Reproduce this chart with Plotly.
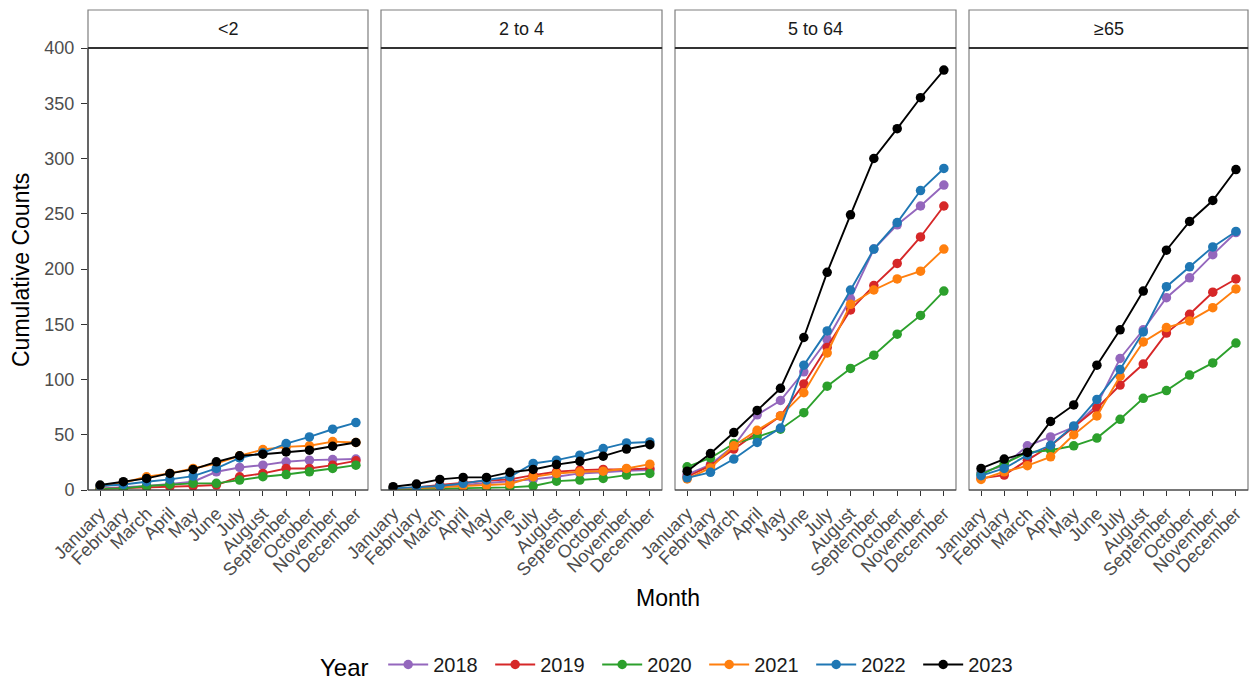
import plotly.graph_objects as go

months = ["January", "February", "March", "April", "May", "June", "July",
          "August", "September", "October", "November", "December"]
age_groups = ["<2", "2 to 4", "5 to 64", "≥65"]
years = ["2018", "2019", "2020", "2021", "2022", "2023"]
colors = ["#9467bd", "#d62728", "#2ca02c", "#ff7f0e", "#1f77b4", "#000000"]

# <2
lt2_2018 = [1.5, 2.4, 3.6, 5.4, 7.5, 16.5, 20.4, 22.5, 25.5, 27, 27.6, 28]
lt2_2019 = [1, 1.5, 2.4, 3, 3.6, 4.5, 12, 15, 19.5, 19.5, 22.5, 26.4]
lt2_2020 = [1, 1.5, 3.6, 5, 6, 6, 9, 12, 14, 16.5, 19.5, 22.5]
lt2_2021 = [3, 6.6, 12, 15, 19.5, 24, 31, 36.6, 39, 40, 43.8, 43]
lt2_2022 = [3.6, 5, 7.5, 9.6, 12.6, 19.5, 29, 33.6, 42, 48, 55, 61]
lt2_2023 = [4.5, 7.5, 10.5, 15, 18.6, 25.5, 31, 32.4, 34.5, 36, 39.6, 43]

# 2 to 4
a24_2018 = [1, 1.8, 3, 4.5, 6, 7.5, 9.6, 12, 15, 16, 17.4, 18]
a24_2019 = [1.2, 2.4, 4.5, 6.6, 8.4, 9.6, 13.5, 16.5, 18, 18.6, 18.6, 19.5]
a24_2020 = [0.6, 1, 1.2, 1.5, 1.8, 2.4, 3.6, 8, 9, 10.5, 13.5, 15]
a24_2021 = [1, 1.5, 2.4, 3.6, 4.5, 5.4, 12, 15, 16.5, 17, 19.5, 23.4]
a24_2022 = [1.5, 2.4, 3.6, 6, 9, 12, 24, 27, 31.5, 37.5, 42.6, 43.5]
a24_2023 = [3, 5.4, 9.6, 11.4, 11.4, 16, 18.6, 23, 26, 30.6, 37, 41]

# 5 to 64
a564_2018 = [14, 23, 40, 68, 81, 107, 136, 173, 218, 240, 257, 276]
a564_2019 = [12, 22, 37, 52, 67, 96, 129, 163, 185, 205, 229, 257]
a564_2020 = [21, 29, 42, 48, 55, 70, 94, 110, 122, 141, 158, 180]
a564_2021 = [10, 20, 40, 54, 67, 88, 124, 168, 181, 191, 198, 218]
a564_2022 = [11, 16, 28, 43, 56, 113, 144, 181, 218, 242, 271, 291]
a564_2023 = [17, 33, 52, 72, 92, 138, 197, 249, 300, 327, 355, 380]

# >=65
a65_2018 = [16, 22, 40, 48, 57, 77, 119, 145, 174, 192, 213, 233]
a65_2019 = [10.5, 13.5, 27, 40, 57, 74, 95, 114, 142, 159, 179, 191]
a65_2020 = [14, 24, 34, 36, 40, 47, 64, 83, 90, 104, 115, 133]
a65_2021 = [9.6, 16.5, 22, 30, 50, 67, 103, 134, 147, 153, 165, 182]
a65_2022 = [13, 19.5, 31.5, 40.5, 58, 82, 109, 143, 184, 202, 220, 234]
a65_2023 = [19.5, 28, 34, 62, 77, 113, 145, 180, 217, 243, 262, 290]

panels = [
    [lt2_2018, lt2_2019, lt2_2020, lt2_2021, lt2_2022, lt2_2023],
    [a24_2018, a24_2019, a24_2020, a24_2021, a24_2022, a24_2023],
    [a564_2018, a564_2019, a564_2020, a564_2021, a564_2022, a564_2023],
    [a65_2018, a65_2019, a65_2020, a65_2021, a65_2022, a65_2023],
]

W, H = 1249, 679
px_left = [88, 381, 675, 969]
px_right = [368, 662, 956, 1248]
plot_top, plot_bottom = 48, 490
strip_top = 10
L, R = 88, 1248
PW = R - L
PH = plot_bottom - plot_top

def fx(p):
    return (p - L) / PW

def fy(p):
    return (plot_bottom - p) / PH

fig = go.Figure()
FONT = "Liberation Sans, Arial, sans-serif"

for i, series in enumerate(panels):
    xa = "x" if i == 0 else f"x{i+1}"
    for j, vals in enumerate(series):
        fig.add_trace(go.Scatter(
            x=months, y=vals, mode="lines+markers",
            name=years[j], legendgroup=years[j], showlegend=(i == 0),
            line=dict(color=colors[j], width=1.9),
            marker=dict(color=colors[j], size=9.5),
            xaxis=xa, yaxis="y",
        ))

layout = dict(
    width=W, height=H,
    margin=dict(l=L, r=W - R, t=plot_top, b=H - plot_bottom, autoexpand=False),
    paper_bgcolor="white", plot_bgcolor="white",
    font=dict(family=FONT, color="#000000"),
    showlegend=True,
    legend=dict(
        orientation="h", x=fx(672), xanchor="center", y=fy(666), yanchor="middle",
        title=dict(text="Year ", font=dict(size=24, color="#000000"), side="left"),
        font=dict(size=20, color="#1a1a1a"), itemwidth=40, tracegroupgap=0,
        entrywidth=52, entrywidthmode="pixels",
        bgcolor="rgba(0,0,0,0)",
    ),
)

tick_font = dict(size=18, color="#4d4d4d", family=FONT)
for i in range(4):
    key = "xaxis" if i == 0 else f"xaxis{i+1}"
    layout[key] = dict(
        domain=[fx(px_left[i]), fx(px_right[i])],
        anchor="y", type="category", categoryorder="array", categoryarray=months,
        range=[-0.52, 11.52], tickangle=-45, tickfont=tick_font,
        ticks="outside", ticklen=5, tickcolor="#333333", tickwidth=1,
        showgrid=False, zeroline=False, showline=False, automargin=False,
    )

layout["yaxis"] = dict(
    domain=[0, 1], anchor="x",
    range=[0, 400], tickvals=[0, 50, 100, 150, 200, 250, 300, 350, 400],
    ticks="outside", ticklen=6, tickcolor="#333333", tickwidth=1,
    tickfont=tick_font, showgrid=False, zeroline=False, showline=False,
    automargin=False, ticklabelstandoff=3,
)
fig.update_layout(**layout)

shapes = []
annotations = []
for i in range(4):
    x0, x1 = fx(px_left[i]), fx(px_right[i])
    shapes.append(dict(type="rect", xref="paper", yref="paper", x0=x0, x1=x1,
                       y0=0, y1=1,
                       line=dict(color="#7f7f7f", width=1.2), fillcolor="rgba(0,0,0,0)", layer="below"))
    shapes.append(dict(type="line", xref="paper", yref="paper", x0=x0, x1=x1,
                       y0=0, y1=0,
                       line=dict(color="#333333", width=1.2), layer="above"))
    shapes.append(dict(type="rect", xref="paper", yref="paper", x0=x0, x1=x1,
                       y0=1, y1=fy(strip_top),
                       line=dict(color="#7f7f7f", width=1.2), fillcolor="white"))
    shapes.append(dict(type="line", xref="paper", yref="paper", x0=x0, x1=x1,
                       y0=1, y1=1,
                       line=dict(color="#333333", width=2.2)))
    annotations.append(dict(text=age_groups[i], xref="paper", yref="paper",
                            x=(x0 + x1) / 2, y=fy((strip_top + plot_top) / 2),
                            xanchor="center", yanchor="middle", showarrow=False,
                            font=dict(size=18, color="#1a1a1a", family=FONT)))

shapes.append(dict(type="line", xref="paper", yref="paper", x0=0, x1=0,
                   y0=0, y1=1, line=dict(color="#333333", width=1.2)))

annotations.append(dict(text="Month", xref="paper", yref="paper", x=fx(668), y=fy(598),
                        xanchor="center", yanchor="middle", showarrow=False,
                        font=dict(size=23, color="#000000", family=FONT)))
annotations.append(dict(text="Cumulative Counts", xref="paper", yref="paper", x=fx(21), y=fy(270),
                        xanchor="center", yanchor="middle", showarrow=False, textangle=-90,
                        font=dict(size=23, color="#000000", family=FONT)))

fig.update_layout(shapes=shapes, annotations=annotations)
fig.write_html(
    "out.html",
    config={"displayModeBar": False},
    post_script="document.body.style.margin='0';document.body.style.padding='0';"
                "document.body.style.overflow='hidden';",
)
